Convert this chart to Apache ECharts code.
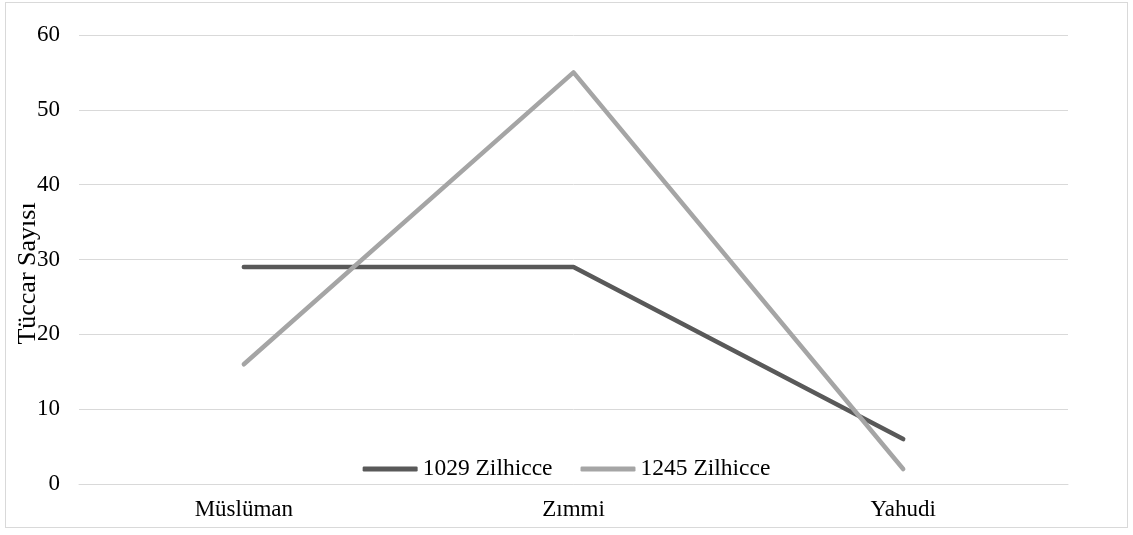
<!DOCTYPE html>
<html>
<head>
<meta charset="utf-8">
<script src="https://cdn.jsdelivr.net/npm/echarts@6/dist/echarts.min.js"></script>
<style>
html,body{margin:0;padding:0;background:#fff;}
#wrap{position:absolute;left:5px;top:2px;width:1121px;height:524px;border:1px solid #d9d9d9;}
#c{position:absolute;left:0;top:0;width:1133px;height:535px;}
</style>
</head>
<body>
<div id="wrap"></div>
<div id="c"></div>
<script>
const categories = ['Müslüman', 'Zımmi', 'Yahudi'];
const seriesNames = ['1029 Zilhicce', '1245 Zilhicce'];
const values1029 = [29, 29, 6];
const values1245 = [16, 55, 2];
const yTicks = { min: 0, max: 60, interval: 10 };
const yTitle = 'Tüccar Sayısı';

const font = '"Liberation Serif", "Times New Roman", serif';
const fs = 23;
const chart = echarts.init(document.getElementById('c'));
chart.setOption({
  animation: false,
  textStyle: { fontFamily: font },
  grid: { left: 79, right: 65, top: 35, bottom: 51, containLabel: false, outerBoundsMode: 'none' },
  legend: {
    data: seriesNames,
    bottom: 49,
    left: 'center',
    itemWidth: 55,
    itemHeight: 5,
    itemGap: 28,
    icon: 'roundRect',
    textStyle: { fontFamily: font, fontSize: 23.5, color: '#000' }
  },
  xAxis: {
    type: 'category',
    data: categories,
    boundaryGap: true,
    axisLine: { show: true, lineStyle: { color: '#d9d9d9', width: 1 } },
    axisTick: { show: false },
    axisLabel: { fontFamily: font, fontSize: fs, color: '#000', margin: 14 }
  },
  yAxis: {
    type: 'value',
    min: yTicks.min, max: yTicks.max, interval: yTicks.interval,
    name: yTitle,
    nameLocation: 'middle',
    nameGap: 38,
    nameRotate: 90,
    nameMoveOverlap: false,
    nameTextStyle: { fontFamily: font, fontSize: 26, color: '#000', padding: [0, 0, 0, -28] },
    axisLine: { show: false },
    axisTick: { show: false },
    splitLine: { lineStyle: { color: '#d9d9d9', width: 1 } },
    axisLabel: { fontFamily: font, fontSize: fs, color: '#000', margin: 19 }
  },
  series: [
    {
      name: seriesNames[0], type: 'line', data: values1029,
      showSymbol: false, symbol: 'none',
      lineStyle: { color: '#595959', width: 4.5, cap: 'round', join: 'round' },
      itemStyle: { color: '#595959' }
    },
    {
      name: seriesNames[1], type: 'line', data: values1245,
      showSymbol: false, symbol: 'none',
      lineStyle: { color: '#a5a5a5', width: 4.5, cap: 'round', join: 'round' },
      itemStyle: { color: '#a5a5a5' }
    }
  ]
});
</script>
</body>
</html>
